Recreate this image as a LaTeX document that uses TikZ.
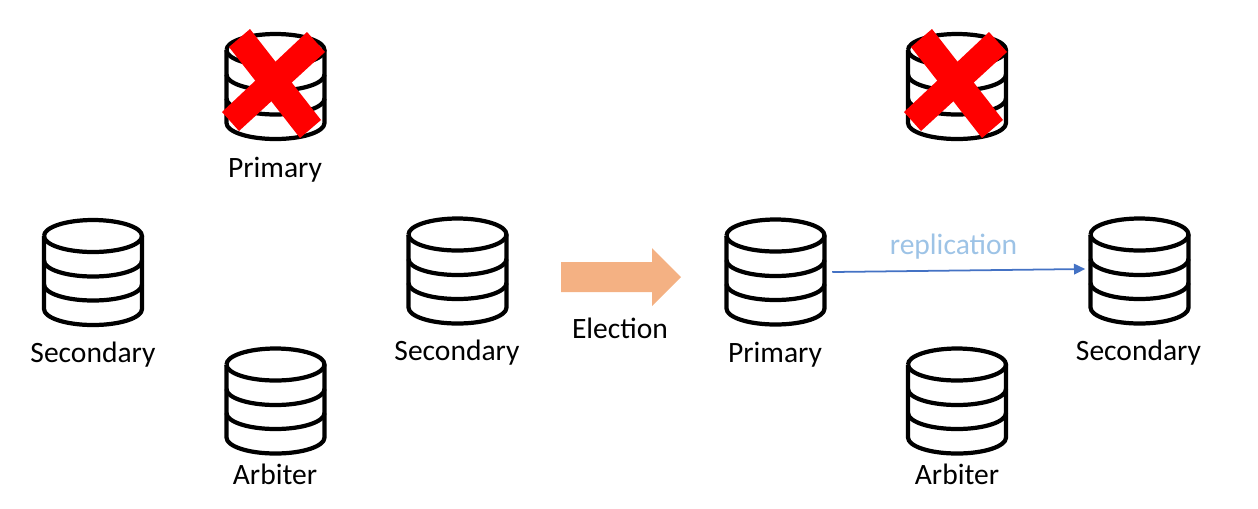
\documentclass[tikz,border=0pt]{standalone}
\usepackage{fontspec}
\setmainfont{Carlito}
\usepackage{tikz}
\usetikzlibrary{arrows.meta}
\definecolor{electionfill}{HTML}{F4B183}
\definecolor{replline}{HTML}{4472C4}
\definecolor{repltext}{HTML}{9DC3E6}

\begin{document}
\begin{tikzpicture}[
        x=0.01cm, y=0.01cm,
        dbline/.style = {black, line width=1.2pt, line join=round},
        dbspot/.style = {inner sep=0pt, minimum width=1.12cm, minimum height=1.03cm},
        dblabel/.style = {inner sep=0pt, font=\fontsize{8.4}{10}\selectfont},
        crossbar/.style = {fill=red, draw=none},
        database/.pic = {
            \draw[dbline] (-49,36.5) arc[start angle=180, end angle=-180, x radius=49, y radius=16];
            \draw[dbline] (-49,36.5) -- (-49,-36.5) arc[start angle=180, end angle=360, x radius=49, y radius=16] -- (49,36.5);
            \draw[dbline] (-49,12) arc[start angle=180, end angle=360, x radius=49, y radius=16];
            \draw[dbline] (-49,-12) arc[start angle=180, end angle=360, x radius=49, y radius=16];
        }
    ]
    \useasboundingbox (0,0) rectangle (1258,-508);
    % left group
    \node (dbprimary) [dbspot] at (275.5,-86.5) {};
    \node (dbsecleft) [dbspot] at (93,-272.5) {};
    \node (dbsecmid) [dbspot] at (457.5,-271) {};
    \node (dbarbiter) [dbspot] at (275.5,-401) {};
    \pic at (dbprimary) {database};
    \pic at (dbsecleft) {database};
    \pic at (dbsecmid) {database};
    \pic at (dbarbiter) {database};
    \node (lblprimary) [dblabel] at (275,-170) {Primary};
    \node (lblsecleft) [dblabel] at (93,-355) {Secondary};
    \node (lblsecmid) [dblabel] at (457,-353) {Secondary};
    \node (lblarbiter) [dblabel] at (275,-474) {Arbiter};
    \fill[crossbar] (250,-29) -- (229,-47) -- (300,-138) -- (321,-120) -- cycle;
    \fill[crossbar] (307,-32) -- (325,-52) -- (239,-131) -- (222,-112) -- cycle;
    % election arrow
    \fill[electionfill] (561,-262) -- (652,-262) -- (652,-248) -- (681,-277) -- (652,-306) -- (652,-292) -- (561,-292) -- cycle;
    \node (lblelection) [dblabel] at (620,-328) {Election};
    % right group
    \node (dbdown) [dbspot] at (957,-86.5) {};
    \node (dbnewprim) [dbspot] at (775.5,-272) {};
    \node (dbsecright) [dbspot] at (1139.5,-271) {};
    \node (dbarbright) [dbspot] at (957,-401) {};
    \pic at (dbdown) {database};
    \pic at (dbnewprim) {database};
    \pic at (dbsecright) {database};
    \pic at (dbarbright) {database};
    \node (lblnewprim) [dblabel] at (775,-355) {Primary};
    \node (lblsecright) [dblabel] at (1138.5,-353) {Secondary};
    \node (lblarbright) [dblabel] at (957,-474) {Arbiter};
    \fill[crossbar] (932,-29) -- (911,-47) -- (982,-138) -- (1003,-120) -- cycle;
    \fill[crossbar] (989,-32) -- (1007,-52) -- (921,-131) -- (904,-112) -- cycle;
    \draw[replline, line width=0.5pt, shorten >=-0.7pt, -{Triangle[length=3.2pt,width=3pt]}] (dbnewprim.east) -- (dbsecright.178);
    \node (lblrepl) [dblabel, text=repltext] at (953.5,-247) {replication};
\end{tikzpicture}
\end{document}
